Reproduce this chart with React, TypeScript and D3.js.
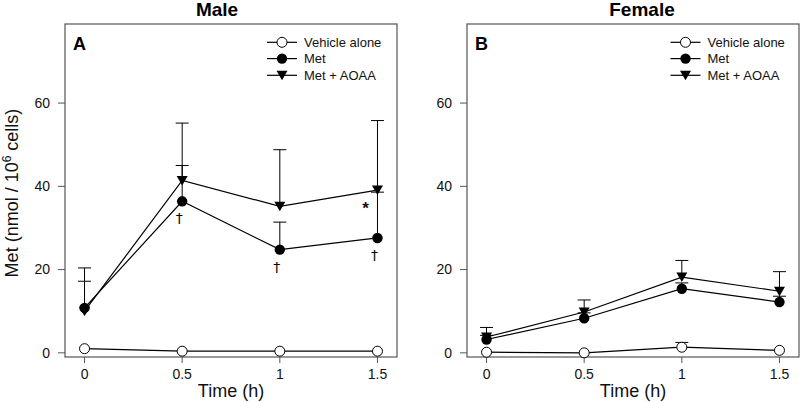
import React from "react";
import * as d3 from "d3";

const times = [0, 0.5, 1, 1.5];
const xTicks = [0, 0.5, 1, 1.5];
const xTickLabels = ["0", "0.5", "1", "1.5"];
const yTicks = [0, 20, 40, 60];
const seriesNames = ["Vehicle alone", "Met", "Met + AOAA"];

// Male
const maleVehicle = [1.0, 0.4, 0.4, 0.4];
const maleVehicleErr = [1.0, 0.4, 0.4, 0.4];
const maleMet = [10.8, 36.4, 24.8, 27.6];
const maleMetErr = [17.2, 45.0, 31.4, 38.6];
const maleAoaa = [10.0, 41.4, 35.2, 39.1];
const maleAoaaErr = [20.4, 55.2, 48.8, 55.8];
const maleDaggers = [0.5, 1, 1.5];
const maleStars = [1.5];

// Female
const femaleVehicle = [0.15, 0.0, 1.35, 0.6];
const femaleVehicleErr = [0.15, 0.0, 2.5, 0.6];
const femaleMet = [3.2, 8.3, 15.4, 12.2];
const femaleMetErr = [4.2, 9.6, 16.8, 13.6];
const femaleAoaa = [3.8, 9.8, 18.2, 14.8];
const femaleAoaaErr = [6.1, 12.7, 22.2, 19.5];

const FONT = "'Liberation Sans', Arial, Helvetica, sans-serif";

type PanelProps = {
  x0: number;
  x1: number;
  title: string;
  titleX: number;
  letter: string;
  vehicle: number[];
  vehicleErr: number[];
  met: number[];
  metErr: number[];
  aoaa: number[];
  aoaaErr: number[];
  daggers: number[];
  stars: number[];
  legendX: number;
  showYLabel: boolean;
};

const Y0 = 24;
const Y1 = 357;

function tri(cx: number, cy: number) {
  return `M${cx - 5.5},${cy - 4.5}L${cx + 5.5},${cy - 4.5}L${cx},${cy + 5}Z`;
}

function Panel(p: PanelProps) {
  const x = d3.scaleLinear().domain([-0.1, 1.6]).range([p.x0, p.x1]);
  const y = d3.scaleLinear().domain([-1, 79]).range([Y1, Y0]);
  const line = d3
    .line<number>()
    .x((_, i) => x(times[i]))
    .y((d) => y(d));

  const errBars = (vals: number[], errs: number[], key: string) =>
    vals.map((v, i) =>
      errs[i] > v + 0.3 ? (
        <g key={key + i} stroke="#000" strokeWidth={1}>
          <line x1={x(times[i])} x2={x(times[i])} y1={y(v)} y2={y(errs[i])} />
          <line x1={x(times[i]) - 6.5} x2={x(times[i]) + 6.5} y1={y(errs[i])} y2={y(errs[i])} />
        </g>
      ) : null
    );

  const legendRows = [0, 16.3, 33];
  const lx = p.legendX;

  return (
    <g fontFamily={FONT}>
      <text x={p.titleX} y={16} textAnchor="middle" fontSize={19} fontWeight="bold" fill="#000">
        {p.title}
      </text>
      <rect x={p.x0} y={Y0} width={p.x1 - p.x0} height={Y1 - Y0} fill="none" stroke="#555" strokeWidth={1.2} />
      <text x={p.x0 + 8} y={50} fontSize={18} fontWeight="bold" fill="#000">
        {p.letter}
      </text>
      {yTicks.map((t) => (
        <g key={"y" + t}>
          <line x1={p.x0 - 7} x2={p.x0} y1={y(t)} y2={y(t)} stroke="#555" />
          <text x={p.x0 - 15} y={y(t)} dy="0.35em" textAnchor="end" fontSize={14} fill="#111">
            {t}
          </text>
        </g>
      ))}
      {xTicks.map((t, i) => (
        <g key={"x" + t}>
          <line x1={x(t)} x2={x(t)} y1={Y1} y2={Y1 + 6} stroke="#555" />
          <text x={x(t)} y={378.5} textAnchor="middle" fontSize={14} fill="#111">
            {xTickLabels[i]}
          </text>
        </g>
      ))}
      <text x={(p.x0 + p.x1) / 2} y={397} textAnchor="middle" fontSize={18} fill="#111">
        Time (h)
      </text>
      {p.showYLabel && (
        <text transform={`translate(18,193) rotate(-90)`} textAnchor="middle" fontSize={18} fill="#111">
          Met (nmol / 10<tspan dy={-7} fontSize={12}>6</tspan>
          <tspan dy={7}> cells)</tspan>
        </text>
      )}

      {errBars(p.vehicle, p.vehicleErr, "ve")}
      {errBars(p.met, p.metErr, "me")}
      {errBars(p.aoaa, p.aoaaErr, "ae")}

      <path d={line(p.vehicle) || ""} fill="none" stroke="#000" strokeWidth={1.2} />
      <path d={line(p.met) || ""} fill="none" stroke="#000" strokeWidth={1.2} />
      <path d={line(p.aoaa) || ""} fill="none" stroke="#000" strokeWidth={1.2} />

      {p.aoaa.map((v, i) => (
        <path key={"at" + i} d={tri(x(times[i]), y(v))} fill="#000" />
      ))}
      {p.met.map((v, i) => (
        <circle key={"mc" + i} cx={x(times[i])} cy={y(v)} r={5.2} fill="#000" />
      ))}
      {p.vehicle.map((v, i) => (
        <circle key={"vc" + i} cx={x(times[i])} cy={y(v)} r={5} fill="#fff" stroke="#000" strokeWidth={1} />
      ))}

      {p.daggers.map((t) => {
        const i = times.indexOf(t);
        return (
          <text
            key={"dg" + t}
            x={x(t) - 3}
            y={y(p.met[i]) + 22}
            textAnchor="middle"
            fontSize={14}
            fontFamily="'DejaVu Sans', sans-serif"
            fill="#000"
            style={{ color: "#000" }}
          >
            {"\u2020"}
          </text>
        );
      })}
      {p.stars.map((t) => {
        const i = times.indexOf(t);
        return (
          <text key={"st" + t} x={x(t) - 12} y={y(p.aoaa[i]) + 24} textAnchor="middle" fontSize={17} fontWeight="bold" fill="#111">
            *
          </text>
        );
      })}

      {/* legend */}
      {seriesNames.map((name, k) => {
        const ry = 42.3 + legendRows[k];
        return (
          <g key={"lg" + k}>
            <line x1={lx} x2={lx + 30} y1={ry} y2={ry} stroke="#000" strokeWidth={1.2} />
            {k === 0 && <circle cx={lx + 15} cy={ry} r={5} fill="#fff" stroke="#000" />}
            {k === 1 && <circle cx={lx + 15} cy={ry} r={5.2} fill="#000" />}
            {k === 2 && <path d={tri(lx + 15, ry)} fill="#000" />}
            <text x={lx + 37} y={ry + 4.6} fontSize={13} fill="#111">
              {name}
            </text>
          </g>
        );
      })}
    </g>
  );
}

export default function App() {
  return (
    <svg
      width={800}
      height={402}
      style={{ position: "absolute", left: 0, top: 0, background: "#fff" }}
    >
      <rect width={800} height={402} fill="#fff" />
      <Panel
        x0={65}
        x1={397}
        title="Male"
        titleX={217}
        letter="A"
        vehicle={maleVehicle}
        vehicleErr={maleVehicleErr}
        met={maleMet}
        metErr={maleMetErr}
        aoaa={maleAoaa}
        aoaaErr={maleAoaaErr}
        daggers={maleDaggers}
        stars={maleStars}
        legendX={267}
        showYLabel={true}
      />
      <Panel
        x0={467}
        x1={799}
        title="Female"
        titleX={642}
        letter="B"
        vehicle={femaleVehicle}
        vehicleErr={femaleVehicleErr}
        met={femaleMet}
        metErr={femaleMetErr}
        aoaa={femaleAoaa}
        aoaaErr={femaleAoaaErr}
        daggers={[]}
        stars={[]}
        legendX={670.5}
        showYLabel={false}
      />
    </svg>
  );
}
